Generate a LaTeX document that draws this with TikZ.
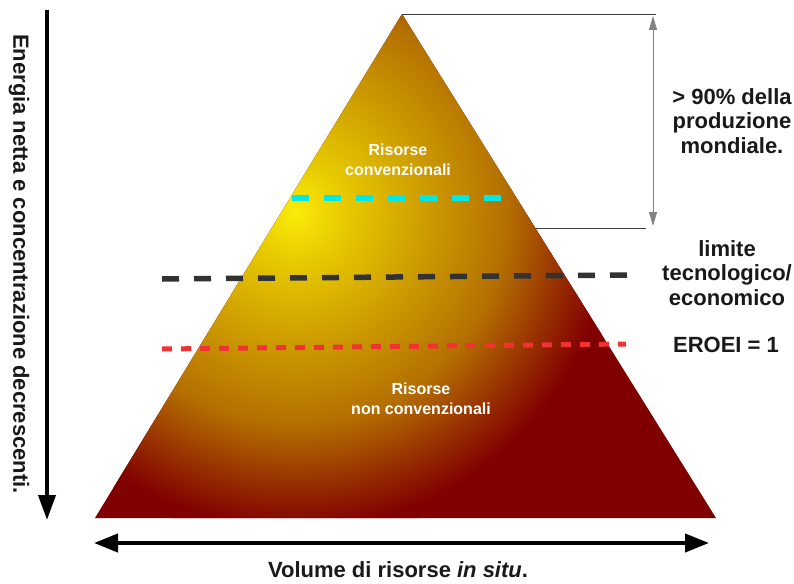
\documentclass[tikz,border=0pt]{standalone}
\usepackage{fontspec}
\setmainfont{Liberation Sans}
\usetikzlibrary{arrows.meta}
\definecolor{py0}{RGB}{250,235,10}
\definecolor{py1}{RGB}{230,200,0}
\definecolor{py2}{RGB}{205,155,0}
\definecolor{py3}{RGB}{180,112,0}
\definecolor{py5}{RGB}{155,55,0}
\definecolor{py4}{RGB}{128,0,0}
\definecolor{dashcyan}{RGB}{0,232,232}
\definecolor{dashblack}{RGB}{50,50,50}
\definecolor{dashred}{RGB}{240,50,50}
\definecolor{bracketgray}{RGB}{130,130,130}
\pgfdeclareradialshading{pyr}{\pgfpoint{0bp}{0bp}}{color(0bp)=(py0); color(4bp)=(py1); color(10bp)=(py2); color(16bp)=(py3); color(20bp)=(py5); color(24bp)=(py4); color(25bp)=(py4); color(50bp)=(py4)}
\tikzset{
  lbl/.style={font=\bfseries\fontsize{22}{24.5}\selectfont, align=center, text=black!90, inner sep=0pt},
  inlbl/.style={font=\bfseries\fontsize{16}{20}\selectfont, align=center, text=white, inner sep=0pt},
  cyandash/.style={draw=dashcyan, line width=6pt, dash pattern=on 17pt off 15pt},
  blackdash/.style={draw=dashblack, line width=5.5pt, dash pattern=on 17pt off 15pt},
  reddash/.style={draw=dashred, line width=5pt, dash pattern=on 10pt off 9pt},
  thinline/.style={draw=black!75, line width=0.9pt},
  grayarrow/.style={draw=bracketgray, line width=1pt, {Triangle[length=14pt,width=8pt]}-{Triangle[length=14pt,width=8pt]}},
  bigarrow/.style={draw=black, line width=4pt, -{Triangle[length=25pt,width=17pt]}},
  dblarrow/.style={draw=black, line width=4pt, {Triangle[length=24pt,width=18pt]}-{Triangle[length=24pt,width=18pt]}}
}
\begin{document}
\begin{tikzpicture}[x=1pt,y=-1pt]
\useasboundingbox (0,0) rectangle (794,583);
\fill[white] (0,0) rectangle (794,583);
% pyramid
\coordinate (apex) at (402,14);
\coordinate (bl) at (95,518);
\coordinate (br) at (716,518);
\fill[py4] (apex)--(bl)--(br)--cycle;
\begin{scope}
  \clip (apex)--(bl)--(br)--cycle;
  \shade[shading=pyr] (295,212) circle (330);
\end{scope}
% bracket
\coordinate (btop) at (656,14);
\coordinate (bedge) at (535,228);
\coordinate (bbot) at (646,228);
\coordinate (atop) at (653,16);
\coordinate (abot) at (653,226);
\draw[thinline] (apex) -- (btop);
\draw[thinline] (bedge) -- (bbot);
\draw[grayarrow] (atop) -- (abot);
% dashed lines
\coordinate (c1) at (292,198);
\coordinate (c2) at (502,198);
\draw[cyandash] (c1) -- (c2);
\coordinate (k1) at (162,279);
\coordinate (k2) at (628,275);
\draw[blackdash] (k1) -- (k2);
\coordinate (r1) at (162,349);
\coordinate (r2) at (626,344);
\draw[reddash] (r1) -- (r2);
% inner labels
\node[inlbl] (conv) at (398,160) {Risorse\\convenzionali};
\node[inlbl] (nonconv) at (421,399) {Risorse\\non convenzionali};
% right labels
\node[lbl] (prod) at (732,121) {> 90\% della\\produzione\\mondiale.};
\node[lbl] (limite) at (727,273) {limite\\tecnologico/\\economico};
\node[lbl] (eroei) at (726,345) {EROEI = 1};
% axes
\coordinate (vtop) at (47,10);
\coordinate (vbot) at (47,520);
\draw[bigarrow] (vtop) -- (vbot);
\node[lbl, rotate=-90] (energia) at (19,264) {Energia netta e concentrazione decrescenti.};
\coordinate (hl) at (94,543);
\coordinate (hr) at (709,543);
\draw[dblarrow] (hl) -- (hr);
\node[lbl] (volume) at (398,570) {Volume di risorse \textit{in situ}.};
\end{tikzpicture}
\end{document}
